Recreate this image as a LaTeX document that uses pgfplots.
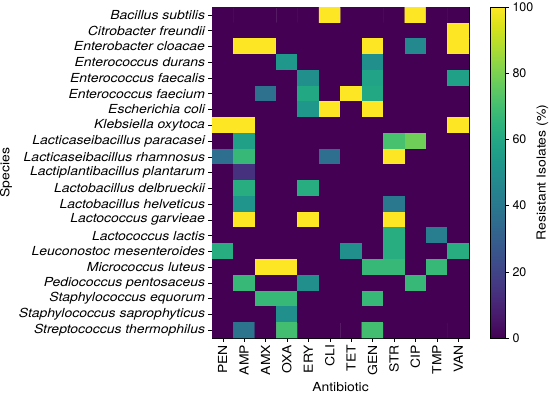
\documentclass[border=0pt]{standalone}
\usepackage{pgfplots}
\pgfplotsset{compat=1.18}
\usepackage{fontspec}
\setmainfont{TeX Gyre Heros}[FakeStretch=1.12]
\newfontfamily\digitfont{TeX Gyre Heros}
\newcommand{\fs}{\fontsize{12.5}{14}\selectfont}
\begin{document}
\begin{tikzpicture}
\useasboundingbox (0,0) rectangle (550bp,-395bp);
\begin{axis}[
 at={(212bp,-7bp)}, anchor=north west,
 width=257bp, height=331bp, scale only axis,
 xmin=-0.5, xmax=11.5, ymin=-0.5, ymax=20.5, y dir=reverse,
 xtick={0,...,11},
 xticklabels={PEN,AMP,AMX,OXA,ERY,CLI,TET,GEN,STR,CIP,TMP,VAN},
 ytick={0,...,20},
 yticklabels={Bacillus subtilis,Citrobacter freundii,Enterobacter cloacae,Enterococcus durans,Enterococcus faecalis,Enterococcus faecium,Escherichia coli,Klebsiella oxytoca,Lacticaseibacillus paracasei,Lacticaseibacillus rhamnosus,Lactiplantibacillus plantarum,Lactobacillus delbrueckii,Lactobacillus helveticus,Lactococcus garvieae,Lactococcus lactis,Leuconostoc mesenteroides,Micrococcus luteus,Pediococcus pentosaceus,Staphylococcus equorum,Staphylococcus saprophyticus,Streptococcus thermophilus},
 xticklabel style={font=\fs, rotate=90, anchor=east},
 yticklabel style={font=\fs\itshape},
 tick align=outside, tick pos=left, major tick length=3.5bp,
 tick style={black, thin},
 xlabel={Antibiotic}, ylabel={Species},
 label style={font=\fs},
 axis line style={black, thin},
 colormap/viridis, point meta min=0, point meta max=100,
 colorbar,
 colorbar style={
   at={(parent axis.north east)}, anchor=north west, xshift=13bp,
   width=15bp, height=331bp, scale only axis,
   ytick={0,20,40,60,80,100},
   yticklabel pos=right, ytick pos=right,
   tick align=outside, major tick length=3.5bp,
   yticklabel style={font=\fs\digitfont, /pgf/number format/assume math mode=true},
   ylabel={Resistant Isolates (\%)},
   ylabel style={font=\fs, at={([xshift=37bp]rel axis cs:1,0.5)}, anchor=center},
   axis line style={black, thin},
 },
]
\addplot[matrix plot*, mesh/cols=12, point meta=explicit] table[x=x, y=y, meta=z, row sep=\\] {
x y z\\
0 0 0\\ 1 0 0\\ 2 0 0\\ 3 0 0\\ 4 0 0\\ 5 0 100\\ 6 0 0\\ 7 0 0\\ 8 0 0\\ 9 0 100\\ 10 0 0\\ 11 0 0\\
0 1 0\\ 1 1 0\\ 2 1 0\\ 3 1 0\\ 4 1 0\\ 5 1 0\\ 6 1 0\\ 7 1 0\\ 8 1 0\\ 9 1 0\\ 10 1 0\\ 11 1 100\\
0 2 0\\ 1 2 100\\ 2 2 100\\ 3 2 0\\ 4 2 0\\ 5 2 0\\ 6 2 0\\ 7 2 100\\ 8 2 0\\ 9 2 47\\ 10 2 0\\ 11 2 100\\
0 3 0\\ 1 3 0\\ 2 3 0\\ 3 3 53\\ 4 3 0\\ 5 3 0\\ 6 3 0\\ 7 3 50\\ 8 3 0\\ 9 3 0\\ 10 3 0\\ 11 3 0\\
0 4 0\\ 1 4 0\\ 2 4 0\\ 3 4 0\\ 4 4 50\\ 5 4 0\\ 6 4 0\\ 7 4 58\\ 8 4 0\\ 9 4 0\\ 10 4 0\\ 11 4 57\\
0 5 0\\ 1 5 0\\ 2 5 37\\ 3 5 0\\ 4 5 60\\ 5 5 0\\ 6 5 100\\ 7 5 60\\ 8 5 0\\ 9 5 0\\ 10 5 0\\ 11 5 0\\
0 6 0\\ 1 6 0\\ 2 6 0\\ 3 6 0\\ 4 6 53\\ 5 6 100\\ 6 6 0\\ 7 6 100\\ 8 6 0\\ 9 6 0\\ 10 6 0\\ 11 6 0\\
0 7 100\\ 1 7 100\\ 2 7 0\\ 3 7 0\\ 4 7 0\\ 5 7 0\\ 6 7 0\\ 7 7 0\\ 8 7 0\\ 9 7 0\\ 10 7 0\\ 11 7 100\\
0 8 0\\ 1 8 57\\ 2 8 0\\ 3 8 0\\ 4 8 0\\ 5 8 0\\ 6 8 0\\ 7 8 0\\ 8 8 71\\ 9 8 78\\ 10 8 0\\ 11 8 0\\
0 9 36\\ 1 9 67\\ 2 9 0\\ 3 9 0\\ 4 9 0\\ 5 9 36\\ 6 9 0\\ 7 9 0\\ 8 9 100\\ 9 9 0\\ 10 9 0\\ 11 9 0\\
0 10 0\\ 1 10 14\\ 2 10 0\\ 3 10 0\\ 4 10 0\\ 5 10 0\\ 6 10 0\\ 7 10 0\\ 8 10 0\\ 9 10 0\\ 10 10 0\\ 11 10 0\\
0 11 0\\ 1 11 62\\ 2 11 0\\ 3 11 0\\ 4 11 62\\ 5 11 0\\ 6 11 0\\ 7 11 0\\ 8 11 0\\ 9 11 0\\ 10 11 0\\ 11 11 0\\
0 12 0\\ 1 12 52\\ 2 12 0\\ 3 12 0\\ 4 12 0\\ 5 12 0\\ 6 12 0\\ 7 12 0\\ 8 12 40\\ 9 12 0\\ 10 12 0\\ 11 12 0\\
0 13 0\\ 1 13 100\\ 2 13 0\\ 3 13 0\\ 4 13 100\\ 5 13 0\\ 6 13 0\\ 7 13 0\\ 8 13 100\\ 9 13 0\\ 10 13 0\\ 11 13 0\\
0 14 0\\ 1 14 0\\ 2 14 0\\ 3 14 0\\ 4 14 0\\ 5 14 0\\ 6 14 0\\ 7 14 0\\ 8 14 62\\ 9 14 0\\ 10 14 42\\ 11 14 0\\
0 15 62\\ 1 15 0\\ 2 15 0\\ 3 15 0\\ 4 15 0\\ 5 15 0\\ 6 15 50\\ 7 15 0\\ 8 15 62\\ 9 15 0\\ 10 15 0\\ 11 15 62\\
0 16 0\\ 1 16 0\\ 2 16 100\\ 3 16 100\\ 4 16 0\\ 5 16 0\\ 6 16 0\\ 7 16 67\\ 8 16 67\\ 9 16 0\\ 10 16 67\\ 11 16 0\\
0 17 0\\ 1 17 67\\ 2 17 0\\ 3 17 0\\ 4 17 50\\ 5 17 0\\ 6 17 0\\ 7 17 0\\ 8 17 0\\ 9 17 67\\ 10 17 0\\ 11 17 0\\
0 18 0\\ 1 18 0\\ 2 18 67\\ 3 18 67\\ 4 18 0\\ 5 18 0\\ 6 18 0\\ 7 18 67\\ 8 18 0\\ 9 18 0\\ 10 18 0\\ 11 18 0\\
0 19 0\\ 1 19 0\\ 2 19 0\\ 3 19 50\\ 4 19 0\\ 5 19 0\\ 6 19 0\\ 7 19 0\\ 8 19 0\\ 9 19 0\\ 10 19 0\\ 11 19 0\\
0 20 0\\ 1 20 38\\ 2 20 0\\ 3 20 70\\ 4 20 0\\ 5 20 0\\ 6 20 0\\ 7 20 70\\ 8 20 0\\ 9 20 0\\ 10 20 0\\ 11 20 0\\
};
\end{axis}
\end{tikzpicture}
\end{document}
